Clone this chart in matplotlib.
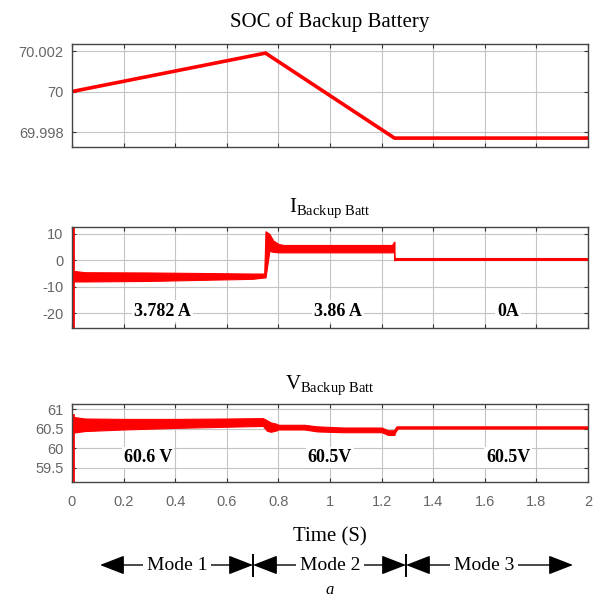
import numpy as np
import matplotlib
matplotlib.use('Agg')
import matplotlib.pyplot as plt

plt.rcParams['mathtext.fontset'] = 'custom'
plt.rcParams['mathtext.rm'] = 'Liberation Serif'
plt.rcParams['mathtext.it'] = 'Liberation Serif:italic'

# SOC of backup battery (%)
soc_t = [0.0, 0.75, 1.25, 2.0]
soc_v = [70.0, 70.0019, 69.9977, 69.9977]

# battery current, ripple band (upper / lower envelope) for modes 1-2
i_t = [0.006, 0.05, 0.3, 0.5, 0.7, 0.745, 0.75, 0.765, 0.78, 0.8, 0.82, 1.0, 1.24, 1.248, 1.25]
i_hi = [-4.0, -4.5, -4.6, -4.8, -5.0, -5.0, 11.0, 10.0, 7.5, 6.2, 5.8, 5.8, 5.8, 7.0, 7.0]
i_lo = [-8.0, -8.0, -7.8, -7.4, -7.0, -6.5, -6.5, 3.5, 3.2, 3.0, 3.0, 3.0, 3.0, 3.0, 0.0]
i3_t = [1.25, 2.0]
i3_v = [0.5, 0.5]
i_sp_t = [0.005, 0.005]
i_sp_v = [-26.0, 13.0]

# battery voltage, ripple band for modes 1-2
v_t = [0.006, 0.05, 0.2, 0.4, 0.6, 0.74, 0.755, 0.77, 0.79, 0.8, 0.9, 0.95, 1.05, 1.2, 1.225, 1.25]
v_hi = [60.8, 60.76, 60.75, 60.75, 60.76, 60.77, 60.72, 60.66, 60.63, 60.6, 60.6, 60.56, 60.53, 60.53, 60.46, 60.46]
v_lo = [60.40, 60.44, 60.48, 60.52, 60.55, 60.57, 60.45, 60.42, 60.45, 60.48, 60.48, 60.43, 60.41, 60.41, 60.34, 60.34]
v3_t = [1.25, 1.262, 2.0]
v3_v = [60.40, 60.52, 60.52]
v_sp_t = [0.005, 0.005]
v_sp_v = [59.0, 60.85]

i_labels = ['3.782 A', '3.86 A', '0A']
i_label_t = [0.35, 1.03, 1.69]
v_labels = ['60.6 V', '60.5V', '60.5V']
v_label_t = [0.295, 1.0, 1.69]

xticks = np.arange(0, 2.01, 0.2)
xticklabels = ['0', '0.2', '0.4', '0.6', '0.8', '1', '1.2', '1.4', '1.6', '1.8', '2']

RED = '#ff0000'
serif = 'Liberation Serif'

fig = plt.figure(figsize=(6.03, 6.09), dpi=100)
L, W = 72 / 603, 516 / 603


def fy(px):
    return 1 - px / 609


ax1 = fig.add_axes([L, fy(147), W, (147 - 44) / 609])
ax2 = fig.add_axes([L, fy(328), W, (328 - 227) / 609])
ax3 = fig.add_axes([L, fy(482), W, (482 - 404) / 609])

for ax in (ax1, ax2, ax3):
    ax.set_xlim(0, 2)
    ax.set_xticks(xticks)
    ax.grid(True, color='#c4c4c4', lw=0.8)
    ax.set_axisbelow(True)
    ax.tick_params(direction='in', top=True, right=True, length=3, width=0.8,
                   color='#333333', labelcolor='#666666', labelsize=10.5, pad=6)
    for s in ax.spines.values():
        s.set_color('#444444')
        s.set_linewidth(1.0)

ax1.set_xticklabels([])
ax2.set_xticklabels([])
ax3.set_xticklabels(xticklabels, fontfamily='Liberation Sans')
ax3.tick_params(axis='x', pad=9)

# SOC
ax1.plot(soc_t, soc_v, color=RED, lw=2.6, solid_joinstyle='miter')
ax1.set_ylim(69.99726, 70.00235)
ax1.set_yticks([69.998, 70.0, 70.002])
ax1.set_yticklabels(['69.998', '70', '70.002'], fontfamily='Liberation Sans')

# current
ax2.fill_between(i_t, i_lo, i_hi, color=RED, lw=0.8)
ax2.plot(i3_t, i3_v, color=RED, lw=2.2)
ax2.plot(i_sp_t, i_sp_v, color=RED, lw=2.0)
ax2.set_ylim(-25.6, 12.6)
ax2.set_yticks([-20, -10, 0, 10])
ax2.set_yticklabels(['-20', '-10', '0', '10'], fontfamily='Liberation Sans')
for t, s in zip(i_label_t, i_labels):
    ax2.text(t, -19.2, s, ha='center', va='center', family=serif, fontweight='bold',
             fontsize=13, bbox=dict(facecolor='white', edgecolor='none', pad=1.5))

# voltage
ax3.fill_between(v_t, v_lo, v_hi, color=RED, lw=0.8)
ax3.plot(v3_t, v3_v, color=RED, lw=2.4)
ax3.plot(v_sp_t, v_sp_v, color=RED, lw=2.0)
ax3.set_ylim(59.14, 61.13)
ax3.set_yticks([59.5, 60, 60.5, 61])
ax3.set_yticklabels(['59.5', '60', '60.5', '61'], fontfamily='Liberation Sans')
for t, s in zip(v_label_t, v_labels):
    ax3.text(t, 59.77, s, ha='center', va='center', family=serif, fontweight='bold',
             fontsize=13, bbox=dict(facecolor='white', edgecolor='none', pad=1.5))

# titles and labels
xc = (72 + 588) / 2 / 603
fig.text(xc, fy(27), 'SOC of Backup Battery', ha='center', va='baseline',
         family=serif, fontsize=15)
fig.text(xc, fy(212), r'I$_{\rm Backup\ Batt}$', ha='center', va='baseline',
         family=serif, fontsize=15)
fig.text(xc, fy(389), r'V$_{\rm Backup\ Batt}$', ha='center', va='baseline',
         family=serif, fontsize=15)
fig.text(xc, fy(537), 'Time (S)', ha='center', va='center', family=serif, fontsize=15)
fig.text(xc, fy(590), 'a', ha='center', va='center', family=serif, style='italic',
         fontsize=12)

# mode arrows in pixel coordinates
lay = fig.add_axes([0, 0, 1, 1])
lay.set_xlim(0, 603)
lay.set_ylim(609, 0)
lay.axis('off')
segments = [(100, 253, 177, 'Mode 1'), (253, 406, 330, 'Mode 2'), (406, 573, 484, 'Mode 3')]
ym = 565
for x0, x1, xt, name in segments:
    lay.annotate('', xy=(x0, ym), xytext=(x1, ym),
                 arrowprops=dict(arrowstyle='<|-|>,head_length=0.9,head_width=0.35',
                                 color='black', lw=1.0, shrinkA=0, shrinkB=0,
                                 mutation_scale=17))
    lay.text(xt, ym, name, ha='center', va='center', family=serif, fontsize=14,
             bbox=dict(facecolor='white', edgecolor='none', pad=2.5))
for xb in (253, 406):
    lay.plot([xb, xb], [555, 576], color='black', lw=1.4)

fig.savefig('out.png', dpi=100)
